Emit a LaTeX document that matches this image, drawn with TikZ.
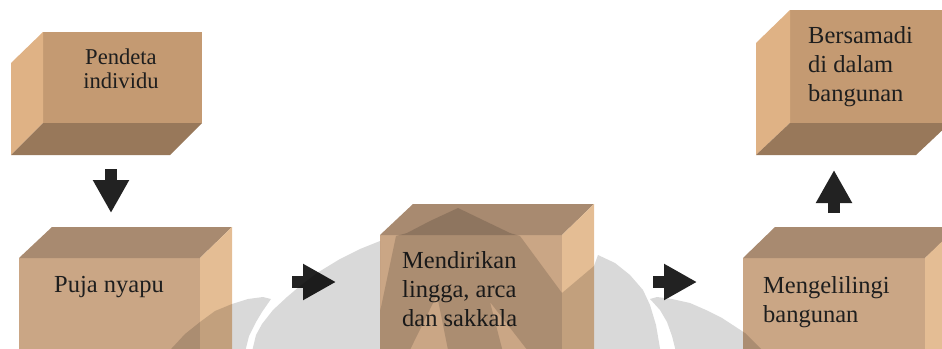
\documentclass[tikz,border=0pt]{standalone}
\usepackage{fontspec}
\setmainfont{Liberation Serif}
\usetikzlibrary{arrows.meta}
\definecolor{topfrontA}{HTML}{C49A72}
\definecolor{topsideA}{HTML}{DFB285}
\definecolor{topbottomA}{HTML}{98785A}
\definecolor{lowtopB}{HTML}{A88A70}
\definecolor{lowfrontB}{HTML}{CAA685}
\definecolor{lowsideB}{HTML}{E4BD94}
\definecolor{txtc}{HTML}{1E1E1E}
\definecolor{arrc}{HTML}{222222}
\tikzset{
  boxtext/.style={inner sep=0pt, text=txtc, font=\fontsize{24.5}{29}\selectfont, align=left},
  smalltext/.style={inner sep=0pt, text=txtc, font=\fontsize{22.6}{24}\selectfont, align=center},
  blockarrow/.style={draw=arrc, line width=12pt, -{Triangle[width=34pt,length=33pt]}},
  mark overlay/.style={fill=black, fill opacity=0.15, even odd rule},
}
\begin{document}
\begin{tikzpicture}[x=1pt,y=-1pt]
\useasboundingbox (0,0) rectangle (942,348);
\clip (0,0) rectangle (942,348);

% ---- Box 1: Pendeta individu (upper left)
\fill[topfrontA] (43,32) rectangle (202,123);
\fill[topsideA] (11,63) -- (43,32) -- (43,123) -- (11,155) -- cycle;
\fill[topbottomA] (11,155) -- (43,123) -- (202,123) -- (170,155) -- cycle;
\node[smalltext, anchor=north] (b1) at (121,49) {Pendeta\\individu};

% ---- Box 5: Bersamadi (upper right)
\fill[topfrontA] (790,10) rectangle (950,123);
\fill[topsideA] (756,43) -- (790,10) -- (790,123) -- (756,155) -- cycle;
\fill[topbottomA] (756,155) -- (790,123) -- (950,123) -- (916,155) -- cycle;
\node[boxtext, anchor=north west] (b5) at (808,26) {Bersamadi\\di dalam\\bangunan};

% ---- Box 2: Puja nyapu
\fill[lowfrontB] (19,258) rectangle (200,360);
\fill[lowtopB] (19,258) -- (52,227) -- (232,227) -- (200,258) -- cycle;
\fill[lowsideB] (200,258) -- (232,227) -- (232,360) -- (200,360) -- cycle;
\node[boxtext, anchor=north, align=center] (b2) at (109,276.5) {Puja nyapu};

% ---- Box 3: Mendirikan lingga
\fill[lowfrontB] (380,235) rectangle (562,360);
\fill[lowtopB] (380,235) -- (413,204) -- (594,204) -- (562,235) -- cycle;
\fill[lowsideB] (562,235) -- (594,204) -- (594,360) -- (562,360) -- cycle;
\node[boxtext, anchor=north west] (b3) at (402,251.3) {Mendirikan\\lingga, arca\\dan sakkala};

% ---- Box 4: Mengelilingi bangunan
\fill[lowfrontB] (743,258) rectangle (925,360);
\fill[lowtopB] (743,258) -- (775,227) -- (960,227) -- (925,258) -- cycle;
\fill[lowsideB] (925,258) -- (957,227) -- (957,360) -- (925,360) -- cycle;
\node[boxtext, anchor=north west] (b4) at (763,276.3) {Mengelilingi\\bangunan};

% ---- Block arrows
\coordinate (a1s) at (111,169); \coordinate (a1e) at (111,213);
\coordinate (a2s) at (292,282); \coordinate (a2e) at (336,282);
\coordinate (a3s) at (653,282); \coordinate (a3e) at (697,282);
\coordinate (a4s) at (834,213); \coordinate (a4e) at (834,170);
\draw[blockarrow] (a1s) -- (a1e);
\draw[blockarrow] (a2s) -- (a2e);
\draw[blockarrow] (a3s) -- (a3e);
\draw[blockarrow] (a4s) -- (a4e);

% ---- Watermark (grey logo, darkening what lies under it)
\fill[mark overlay]
  (165,356) -- (172,348) -- (185,334) -- (200,322) -- (215,311) -- (232,304)
  -- (248,299) -- (263,297) -- (271,299) -- (262,312) -- (256,322) -- (249,336) -- (244,356) -- cycle;
\fill[mark overlay]
  (250,360) -- (256,335) -- (262,324) -- (273,310) -- (287,297) -- (300,286)
  -- (317,273) -- (340,259) -- (360,249) -- (380,241) -- (380,312) -- (396,236)
  -- (407,233) -- (430,221) -- (458,208) -- (485,221) -- (510,233) -- (520,236)
  -- (562,293) -- (594,266) -- (598,255) -- (615,263) -- (630,275) -- (643,290)
  -- (650,305) -- (656,325) -- (662,360) -- cycle
  (405,360) -- (437,295) -- (450,360) -- cycle
  (490,302) -- (505,360) -- (535,360) -- cycle;
\fill[mark overlay]
  (650,299) -- (657,297) -- (672,299) -- (690,303) -- (706,310) -- (722,318)
  -- (745,333) -- (768,356) -- (677,356) -- (672,336) -- (667,322) -- (660,310) -- cycle;
\end{tikzpicture}
\end{document}
